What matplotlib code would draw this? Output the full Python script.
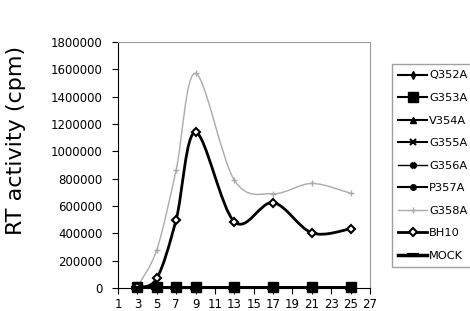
import matplotlib
matplotlib.use("Agg")
import matplotlib.pyplot as plt
from matplotlib.path import Path
from matplotlib.patches import PathPatch
from matplotlib.lines import Line2D
from matplotlib.ticker import FuncFormatter

days = [3, 5, 7, 9, 13, 17, 21, 25]
q352a = [4000, 3000, 3000, 3000, 3000, 3000, 3000, 3000]
g353a = [5000, 5000, 5000, 5000, 5000, 5000, 5000, 5000]
v354a = [3000, 3000, 3000, 3000, 3000, 3000, 3000, 3000]
g355a = [3000, 3000, 3000, 3000, 3000, 3000, 3000, 3000]
g356a = [3000, 3000, 3000, 3000, 3000, 3000, 3000, 3000]
p357a = [3000, 3000, 3000, 3000, 3000, 3000, 3000, 3000]
g358a = [10000, 280000, 865000, 1570000, 790000, 690000, 765000, 693000]
bh10 = [5000, 70000, 500000, 1140000, 485000, 625000, 403000, 433000]
mock = [2000, 2000, 2000, 2000, 2000, 2000, 2000, 2000]

labels = ["Q352A", "G353A", "V354A", "G355A", "G356A", "P357A", "G358A", "BH10", "MOCK"]
series = [q352a, g353a, v354a, g355a, g356a, p357a, g358a, bh10, mock]
styles = [
    dict(color="black", lw=1.5, marker="d", ms=4),
    dict(color="black", lw=1.5, marker="s", ms=6.5),
    dict(color="black", lw=1.5, marker="^", ms=4),
    dict(color="black", lw=1.5, marker="x", ms=4, mew=1.5),
    dict(color="black", lw=1.0, marker="X", ms=4),
    dict(color="black", lw=1.5, marker="o", ms=4),
    dict(color="#aaaaaa", lw=1.0, marker="+", ms=5),
    dict(color="black", lw=2.0, marker="D", ms=4, mfc="white", mew=1.5),
    dict(color="black", lw=2.5, marker="_", ms=8, mew=3),
]


def smooth_path(xs, ys):
    # Excel-like smoothed line: Catmull-Rom turned into cubic Bezier segments
    pts = list(zip(xs, ys))
    verts = [pts[0]]
    codes = [Path.MOVETO]
    for i in range(len(pts) - 1):
        p0 = pts[i - 1] if i > 0 else pts[i]
        p1 = pts[i]
        p2 = pts[i + 1]
        p3 = pts[i + 2] if i + 2 < len(pts) else pts[i + 1]
        c1 = (p1[0] + (p2[0] - p0[0]) / 6, p1[1] + (p2[1] - p0[1]) / 6)
        c2 = (p2[0] - (p3[0] - p1[0]) / 6, p2[1] - (p3[1] - p1[1]) / 6)
        verts += [c1, c2, p2]
        codes += [Path.CURVE4] * 3
    return Path(verts, codes)


fig = plt.figure(figsize=(4.7, 3.11), dpi=100)
ax = fig.add_axes([118 / 470, 1 - 288 / 311, 252 / 470, 246 / 311])

handles = []
for vals, lab, st in zip(series, labels, styles):
    ax.add_patch(PathPatch(smooth_path(days, vals), fill=False,
                           edgecolor=st["color"], lw=st["lw"], zorder=2))
    ax.plot(days, vals, ls="none", marker=st["marker"], ms=st["ms"],
            color=st["color"], mfc=st.get("mfc", st["color"]),
            mew=st.get("mew", 1), zorder=3, clip_on=False)
    handles.append(Line2D([], [], color=st["color"], lw=st["lw"], marker=st["marker"],
                          ms=st["ms"], mfc=st.get("mfc", st["color"]),
                          mew=st.get("mew", 1), label=lab))

ax.set_xlim(1, 27)
ax.set_ylim(0, 1800000)
ax.set_xticks(range(1, 28, 2))
ax.set_yticks(range(0, 1800001, 200000))
ax.yaxis.set_major_formatter(FuncFormatter(lambda v, p: "%d" % v))
ax.tick_params(axis="both", labelsize=8.5, length=4, width=0.8)
ax.tick_params(axis="x", pad=3)
ax.tick_params(axis="y", pad=7)
for s in ["top", "right"]:
    ax.spines[s].set_color("#999999")
    ax.spines[s].set_linestyle((0, (2, 1)))
    ax.spines[s].set_linewidth(0.8)

fig.text(16 / 470, 1 - 140 / 311, "RT activity (cpm)", rotation=90,
         ha="center", va="center", fontsize=16)

fig.legend(handles=handles, loc="upper left", bbox_to_anchor=(392 / 470, 1 - 64 / 311),
           bbox_transform=fig.transFigure, fontsize=8.2, frameon=True, fancybox=False,
           edgecolor="#888888", borderaxespad=0, labelspacing=1.1,
           handlelength=2.5, handletextpad=0.2, borderpad=0.57)

fig.savefig("out.png", dpi=100)
